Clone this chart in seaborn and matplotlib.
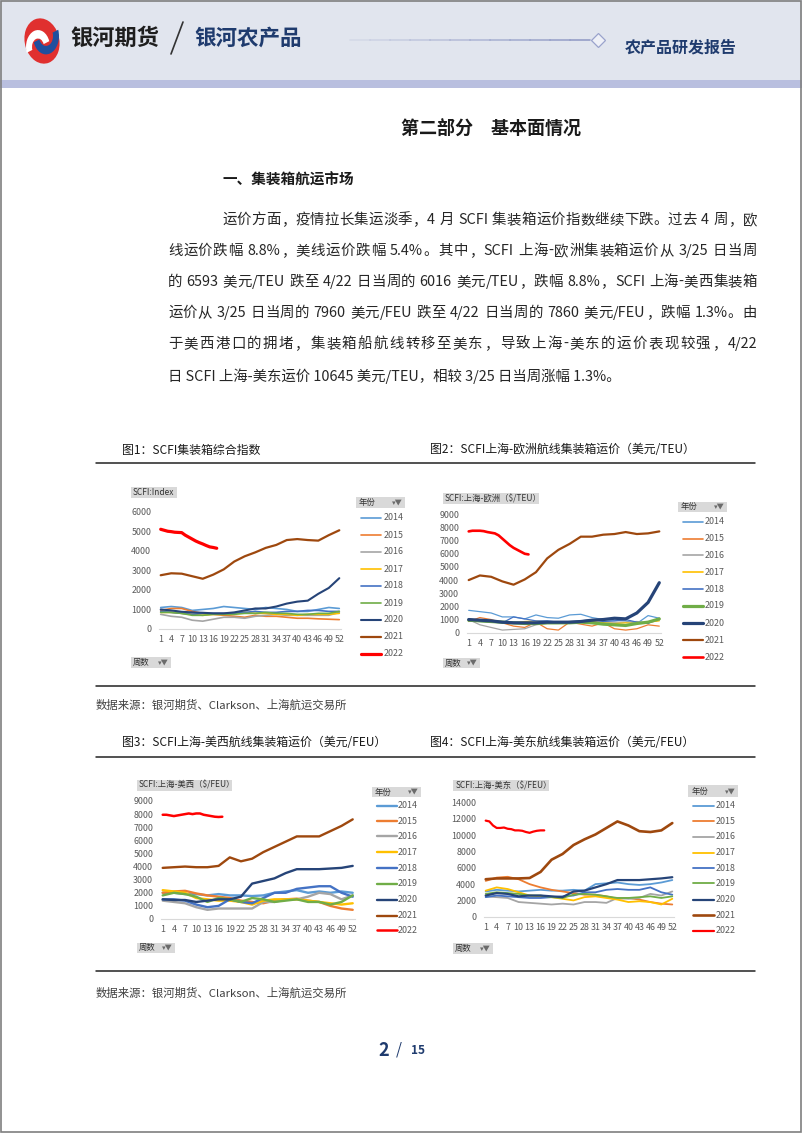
import numpy as np
import pandas as pd
import matplotlib
matplotlib.use("Agg")
import matplotlib.pyplot as plt
from matplotlib.patches import Rectangle, Ellipse, Wedge
from matplotlib.lines import Line2D
import seaborn as sns

sns.set_style("white")
plt.rcParams['font.family'] = ['Noto Sans CJK SC', 'DejaVu Sans']

W, H = 802, 1133

# ---------------- data ----------------
YEARS = ["2014", "2015", "2016", "2017", "2018", "2019", "2020", "2021", "2022"]
WEEKS = [1, 4, 7, 10, 13, 16, 19, 22, 25, 28, 31, 34, 37, 40, 43, 46, 49, 52]
WEEKS_2022 = [1, 2, 3, 4, 5, 6, 7, 8, 9, 10, 11, 12, 13, 14, 15, 16, 17]
XTICK_LABELS = ["1", "4", "7", "10", "13", "16", "19", "22", "25", "28", "31", "34",
                "37", "40", "43", "46", "49", "52"]

# Chart 1: SCFI composite index
c1_2014 = [1100, 1150, 1100, 950, 1000, 1050, 1150, 1100, 1050, 1000, 1100, 1050, 1000, 900, 900, 1000, 1100, 1050]
c1_2015 = [950, 1050, 1050, 900, 800, 750, 700, 650, 600, 700, 650, 650, 600, 550, 550, 520, 500, 480]
c1_2016 = [750, 650, 600, 450, 400, 500, 600, 600, 550, 650, 700, 750, 700, 700, 700, 700, 700, 850]
c1_2017 = [850, 850, 800, 750, 700, 750, 750, 800, 850, 800, 800, 750, 750, 700, 750, 750, 750, 800]
c1_2018 = [900, 850, 800, 750, 800, 800, 800, 800, 850, 900, 850, 850, 900, 900, 950, 950, 900, 900]
c1_2019 = [850, 850, 800, 700, 700, 750, 750, 750, 800, 800, 850, 800, 800, 750, 750, 800, 800, 900]
c1_2020 = [1000, 950, 880, 850, 830, 800, 800, 850, 950, 1050, 1050, 1150, 1300, 1400, 1450, 1800, 2100, 2600]
c1_2021 = [2750, 2850, 2830, 2700, 2570, 2780, 3050, 3450, 3720, 3920, 4150, 4300, 4550, 4600, 4550, 4520, 4800, 5050]
c1_2022 = [5100, 5050, 5000, 4980, 4950, 4940, 4930, 4800, 4700, 4600, 4500, 4420, 4350, 4270, 4200, 4170, 4130]

# Chart 2: Shanghai-Europe ($/TEU)
c2_2014 = [1700, 1600, 1500, 1200, 1200, 1050, 1350, 1150, 1100, 1350, 1400, 1150, 1000, 950, 900, 700, 1300, 1100]
c2_2015 = [850, 1150, 1000, 750, 500, 400, 800, 300, 200, 800, 650, 500, 750, 300, 200, 300, 600, 500]
c2_2016 = [1000, 600, 400, 200, 250, 300, 600, 700, 700, 750, 800, 750, 800, 800, 800, 850, 750, 950]
c2_2017 = [950, 950, 900, 800, 750, 850, 900, 850, 800, 850, 850, 850, 750, 700, 750, 700, 800, 900]
c2_2018 = [900, 850, 800, 750, 1200, 1050, 900, 900, 800, 850, 900, 1000, 850, 900, 1000, 800, 700, 1100]
c2_2019 = [950, 900, 850, 800, 750, 700, 700, 750, 750, 750, 800, 750, 650, 600, 550, 700, 800, 1050]
c2_2020 = [1000, 950, 900, 800, 750, 750, 750, 800, 800, 800, 850, 950, 1000, 1100, 1050, 1500, 2300, 3800]
c2_2021 = [4000, 4350, 4250, 3900, 3650, 4050, 4600, 5650, 6300, 6750, 7300, 7300, 7450, 7500, 7650, 7500, 7550, 7700]
c2_2022 = [7700, 7750, 7750, 7750, 7720, 7650, 7600, 7550, 7400, 7150, 6900, 6650, 6450, 6300, 6150, 6000, 5950]

# Chart 3: Shanghai-US West Coast ($/FEU)
c3_2014 = [2000, 2000, 1900, 1900, 1800, 1900, 1800, 1800, 1750, 1800, 2000, 2100, 2200, 2000, 2100, 2000, 2100, 2000]
c3_2015 = [2000, 2100, 2150, 1950, 1800, 1700, 1600, 1400, 1300, 1200, 1400, 1500, 1550, 1400, 1300, 1000, 800, 700]
c3_2016 = [1400, 1300, 1200, 900, 700, 800, 800, 800, 800, 1300, 1300, 1500, 1500, 1700, 2000, 1900, 1500, 1800]
c3_2017 = [2200, 2100, 2000, 1600, 1500, 1400, 1400, 1300, 1100, 1400, 1500, 1500, 1500, 1400, 1300, 1200, 1100, 1200]
c3_2018 = [1500, 1500, 1400, 1100, 900, 1000, 1500, 1300, 1200, 1600, 2000, 2000, 2300, 2400, 2500, 2500, 2000, 1700]
c3_2019 = [1800, 2000, 1900, 1700, 1300, 1600, 1500, 1300, 1600, 1500, 1300, 1400, 1500, 1300, 1300, 1100, 1300, 1800]
c3_2020 = [1500, 1450, 1450, 1300, 1400, 1500, 1500, 1700, 2700, 2900, 3100, 3500, 3800, 3800, 3800, 3850, 3900, 4050]
c3_2021 = [3900, 3950, 4000, 3950, 3950, 4050, 4700, 4400, 4600, 5100, 5500, 5900, 6300, 6300, 6300, 6700, 7100, 7600]
c3_2022 = [7950, 7950, 7900, 7850, 7900, 7950, 8000, 8050, 8000, 8050, 8050, 7950, 7900, 7850, 7800, 7780, 7800]

# Chart 4: Shanghai-US East Coast ($/FEU)
c4_2014 = [3100, 3300, 3200, 3100, 3200, 3300, 3200, 3200, 3300, 3200, 4000, 4100, 4200, 4000, 3900, 4000, 4200, 4500]
c4_2015 = [4400, 4800, 4900, 4600, 4000, 3600, 3300, 3100, 2900, 2700, 2700, 2500, 2200, 2300, 2100, 1800, 1600, 1500]
c4_2016 = [2500, 2400, 2300, 1800, 1700, 1600, 1500, 1600, 1500, 1800, 1800, 1700, 2300, 2200, 2300, 2800, 2600, 3100]
c4_2017 = [3200, 3600, 3400, 3000, 2600, 2500, 2400, 2200, 2000, 2400, 2500, 2300, 2100, 1800, 1900, 1800, 1500, 2200]
c4_2018 = [2400, 2600, 2500, 2400, 2300, 2300, 2400, 2500, 2600, 3000, 3000, 3300, 3400, 3300, 3300, 3600, 3000, 2700]
c4_2019 = [2800, 3000, 2900, 2800, 2600, 2600, 2400, 2300, 2700, 2800, 2700, 2500, 2300, 2300, 2400, 2500, 2300, 2500]
c4_2020 = [2600, 2900, 2800, 2500, 2600, 2600, 2500, 2400, 3100, 3200, 3600, 4000, 4500, 4500, 4500, 4600, 4700, 4850]
c4_2021 = [4600, 4700, 4700, 4700, 4750, 5500, 7000, 7700, 8800, 9500, 10100, 10900, 11700, 11200, 10500, 10400, 10600, 11500]
c4_2022 = [11800, 11700, 11200, 10900, 10900, 10950, 10800, 10750, 10600, 10600, 10550, 10400, 10300, 10450, 10550, 10600, 10600]

COLORS = {"2014": "#5B9BD5", "2015": "#ED7D31", "2016": "#A5A5A5", "2017": "#FFC000",
          "2018": "#4472C4", "2019": "#70AD47", "2020": "#264478", "2021": "#9E480E",
          "2022": "#FF0000"}

def long_df(series):
    rows = []
    for yr, vals in zip(YEARS, series):
        wk = WEEKS_2022 if yr == "2022" else WEEKS
        for w, v in zip(wk, vals):
            rows.append((yr, w, v))
    return pd.DataFrame(rows, columns=["year", "week", "value"])

fig = plt.figure(figsize=(W / 100, H / 100), dpi=100)
renderer = fig.canvas.get_renderer()

def fx(x):
    return x / W

def fy(y):
    return 1 - y / H

def box(x0, x1, y0, y1, fc, ec="none", lw=0, z=0):
    fig.add_artist(Rectangle((fx(x0), fy(y1)), (x1 - x0) / W, (y1 - y0) / H,
                             transform=fig.transFigure, facecolor=fc, edgecolor=ec,
                             linewidth=lw, zorder=z))

def hline(x0, x1, y, color, lw):
    fig.add_artist(Line2D([fx(x0), fx(x1)], [fy(y), fy(y)], transform=fig.transFigure,
                          color=color, linewidth=lw))

def txt(x, y, s, size, color="#222222", weight="normal", ha="left", va="center", **kw):
    return fig.text(fx(x), fy(y), s, fontsize=size, color=color, fontweight=weight,
                    ha=ha, va=va, **kw)

def justified(x0, x1, y, s, size, color):
    # split into tokens: each CJK char / punctuation alone, latin runs kept together
    tokens = []
    cur = ""
    for ch in s:
        if ord(ch) < 0x2000 and ch != " ":
            cur += ch
        else:
            if cur:
                tokens.append(cur)
                cur = ""
            tokens.append(ch)
    if cur:
        tokens.append(cur)
    widths = []
    for t in tokens:
        if t == " ":
            widths.append(size * 1.389 * 0.25)
            continue
        tt = fig.text(0, 0, t, fontsize=size)
        widths.append(tt.get_window_extent(renderer).width)
        tt.remove()
    total = sum(widths)
    gaps = len(tokens) - 1
    extra = (x1 - x0 - total) / gaps if gaps > 0 else 0
    x = x0
    for t, w in zip(tokens, widths):
        if t != " ":
            txt(x, y, t, size, color=color)
        x += w + extra

# ---------------- page frame & header ----------------
box(0, W, 0, 80, "#e1e5ee")
box(0, W, 80, 88, "#b9bfdf")
fig.add_artist(Rectangle((0.001, 0.001), 0.998, 0.998, transform=fig.transFigure,
                         facecolor="none", edgecolor="#7f7f7f", linewidth=1.2, zorder=10))

# logo
fig.add_artist(Ellipse((fx(42), fy(41)), 36 / W, 44 / H, angle=-25, transform=fig.transFigure,
                       facecolor="#e0302f", edgecolor="none"))
fig.add_artist(Wedge((fx(46), fy(36)), 13 / W, 200, 20, width=6 / W, transform=fig.transFigure,
                     facecolor="#1f4f9e", edgecolor="none"))
fig.add_artist(Wedge((fx(38), fy(47)), 12 / W, 20, 200, width=6 / W, transform=fig.transFigure,
                     facecolor="#ffffff", edgecolor="none"))

txt(70, 38, "银河期货", 16, color="#1e1e1e", weight="bold")
fig.add_artist(Line2D([fx(171), fx(183)], [fy(54), fy(22)], transform=fig.transFigure,
                      color="#333333", linewidth=1.2))
txt(194, 38, "银河农产品", 15.5, color="#1f3b6e", weight="bold")
for i in range(12):
    a0 = 350 + i * 20
    fig.add_artist(Line2D([fx(a0), fx(a0 + 20)], [fy(40), fy(40)], transform=fig.transFigure,
                          color="#8e98c4", alpha=0.15 + 0.07 * i, linewidth=1.2))
fig.add_artist(Line2D([fx(598)], [fy(40)], transform=fig.transFigure, marker="D",
                      markersize=7, markerfacecolor="#eef0f7", markeredgecolor="#9aa3cc",
                      markeredgewidth=0.9))
txt(625, 47, "农产品研发报告", 11.5, color="#1f3b6e", weight="bold")

# ---------------- title & text ----------------
txt(491, 128, "第二部分　基本面情况", 13, color="#1a1a1a", weight="bold", ha="center")
txt(222, 180, "一、集装箱航运市场", 10.5, color="#1a1a1a", weight="bold")

para = [
    (222, "运价方面，疫情拉长集运淡季，4 月 SCFI 集装箱运价指数继续下跌。过去 4 周，欧"),
    (168, "线运价跌幅 8.8%，美线运价跌幅 5.4%。其中，SCFI 上海-欧洲集装箱运价从 3/25 日当周"),
    (168, "的 6593 美元/TEU 跌至 4/22 日当周的 6016 美元/TEU，跌幅 8.8%，SCFI 上海-美西集装箱"),
    (168, "运价从 3/25 日当周的 7960 美元/FEU 跌至 4/22 日当周的 7860 美元/FEU，跌幅 1.3%。由"),
    (168, "于美西港口的拥堵，集装箱船航线转移至美东，导致上海-美东的运价表现较强，4/22"),
    (168, "日 SCFI 上海-美东运价 10645 美元/TEU，相较 3/25 日当周涨幅 1.3%。"),
]
para_y = [220, 251, 282, 313, 344, 376]
PARA_SIZE = 10.4
for i, ((x0, s), y) in enumerate(zip(para, para_y)):
    if i < len(para) - 1:
        justified(x0, 757, y, s, PARA_SIZE, "#262626")
    else:
        txt(x0, y, s, PARA_SIZE, color="#262626")

# captions / rules / sources
txt(122, 450, "图1：SCFI集装箱综合指数", 8.6, color="#1a1a1a")
txt(430, 450, "图2：SCFI上海-欧洲航线集装箱运价（美元/TEU）", 8.6, color="#1a1a1a")
hline(96, 755, 463, "#222222", 1.1)
hline(96, 755, 686, "#222222", 1.1)
txt(96, 705, "数据来源：银河期货、Clarkson、上海航运交易所", 8.2, color="#404040")
txt(122, 743, "图3：SCFI上海-美西航线集装箱运价（美元/FEU）", 8.6, color="#1a1a1a")
txt(430, 743, "图4：SCFI上海-美东航线集装箱运价（美元/FEU）", 8.6, color="#1a1a1a")
hline(96, 755, 757, "#222222", 1.1)
hline(96, 755, 971, "#222222", 1.1)
txt(96, 993, "数据来源：银河期货、Clarkson、上海航运交易所", 8.2, color="#404040")

txt(384, 1050, "2", 13, color="#1f3b6e", weight="bold", ha="center")
txt(399, 1050, "/", 11, color="#1f3b6e", ha="center")
txt(418, 1051, "15", 8.5, color="#1f3b6e", weight="bold", ha="center")

# ---------------- charts ----------------
charts = [
    dict(series=[c1_2014, c1_2015, c1_2016, c1_2017, c1_2018, c1_2019, c1_2020, c1_2021, c1_2022],
         x1=160.7, x52=339.3, y0=629, ytop=511.7, ymax=6000, ystep=1000,
         lw=[1.2, 1.2, 1.2, 1.2, 1.2, 1.2, 1.5, 1.6, 2.3],
         label="SCFI:Index", lab_box=(131, 177, 487, 498),
         wk_box=(131, 171, 657, 668),
         yr_box=(355.7, 405, 496.7, 508),
         leg_x=(360.7, 381, 383.3),
         leg_y=[517.7, 535, 551.7, 569, 586, 603, 620, 636.7, 653.7]),
    dict(series=[c2_2014, c2_2015, c2_2016, c2_2017, c2_2018, c2_2019, c2_2020, c2_2021, c2_2022],
         x1=468.7, x52=659.3, y0=632.7, ytop=514.3, ymax=9000, ystep=1000,
         lw=[0.9, 0.9, 0.9, 0.9, 0.9, 2.3, 2.3, 1.6, 1.9],
         label="SCFI:上海-欧洲（$/TEU）", lab_box=(442.7, 539.3, 493, 504),
         wk_box=(443, 480, 657.7, 668.3),
         yr_box=(677.7, 726.7, 501.7, 512.3),
         leg_x=(683, 703, 705),
         leg_y=[521.7, 538.7, 555.3, 572.3, 589, 606, 623.3, 640.3, 657]),
    dict(series=[c3_2014, c3_2015, c3_2016, c3_2017, c3_2018, c3_2019, c3_2020, c3_2021, c3_2022],
         x1=162.7, x52=352.7, y0=919, ytop=801, ymax=9000, ystep=1000,
         lw=[1.7, 1.7, 1.7, 1.7, 1.7, 1.7, 1.7, 1.7, 1.8],
         label="SCFI:上海-美西（$/FEU）", lab_box=(136.7, 232.3, 779.7, 790.7),
         wk_box=(136.7, 175, 942.7, 953),
         yr_box=(371.7, 421, 786.7, 797.3),
         leg_x=(376.7, 396.7, 398),
         leg_y=[805.7, 821, 836.3, 852.3, 868.3, 884, 899.7, 915.7, 930.3]),
    dict(series=[c4_2014, c4_2015, c4_2016, c4_2017, c4_2018, c4_2019, c4_2020, c4_2021, c4_2022],
         x1=485.7, x52=672.3, y0=916.7, ytop=802.7, ymax=14000, ystep=2000,
         lw=[1.3, 1.3, 1.3, 1.3, 1.3, 1.3, 1.6, 1.9, 1.6],
         label="SCFI:上海-美东（$/FEU）", lab_box=(453.3, 549.3, 780, 790.7),
         wk_box=(453, 493, 943, 954),
         yr_box=(688.3, 738.3, 785, 797.3),
         leg_x=(693.3, 714, 715.7),
         leg_y=[806, 821, 836.7, 852.7, 868.3, 883.3, 899.7, 915, 930.7]),
]

TICK_C = "#595959"
for c in charts:
    dx = (c["x52"] - c["x1"]) / 51
    left = c["x1"] - 0.5 * dx
    right = c["x52"] + 0.5 * dx
    ax = fig.add_axes([fx(left), fy(c["y0"]), (right - left) / W, (c["y0"] - c["ytop"]) / H])
    ax.set_facecolor("none")
    df = long_df(c["series"])
    for yr, lw in zip(YEARS, c["lw"]):
        sns.lineplot(data=df[df["year"] == yr], x="week", y="value", color=COLORS[yr],
                     linewidth=lw, ax=ax, legend=False, errorbar=None, zorder=2)
    ax.set_xlim(0.5, 52.5)
    ax.set_ylim(0, c["ymax"])
    ax.set_xticks(WEEKS)
    ax.set_xticklabels(XTICK_LABELS)
    yt = list(range(0, c["ymax"] + 1, c["ystep"]))
    ax.set_yticks(yt)
    ax.set_yticklabels([str(v) for v in yt])
    ax.tick_params(axis="both", length=0, labelsize=6.4, labelcolor=TICK_C)
    ax.tick_params(axis="x", pad=4.5)
    ax.tick_params(axis="y", pad=5.5)
    ax.set_xlabel("")
    ax.set_ylabel("")
    ax.grid(False)
    for s in ["top", "right", "left"]:
        ax.spines[s].set_visible(False)
    ax.spines["bottom"].set_color("#d9d9d9")
    ax.spines["bottom"].set_linewidth(0.8)
    ax.spines["bottom"].set_zorder(1)

    # field buttons
    x0, x1b, yb0, yb1 = c["lab_box"]
    box(x0, x1b, yb0, yb1, "#d9d9d9")
    txt(x0 + 2, (yb0 + yb1) / 2, c["label"], 6.0, color="#333333")
    x0, x1b, yb0, yb1 = c["wk_box"]
    box(x0, x1b, yb0, yb1, "#d9d9d9")
    txt(x0 + 2, (yb0 + yb1) / 2, "周数", 6.0, color="#333333")
    txt(x1b - 2, (yb0 + yb1) / 2, "▾▼", 5.2, color="#6b6b6b", ha="right")
    x0, x1b, yb0, yb1 = c["yr_box"]
    box(x0, x1b, yb0, yb1, "#d9d9d9")
    txt(x0 + 3, (yb0 + yb1) / 2, "年份", 6.0, color="#333333")
    txt(x1b - 2, (yb0 + yb1) / 2, "▾▼", 5.2, color="#6b6b6b", ha="right")

    # legend
    lx0, lx1, tx = c["leg_x"]
    for yr, lw, ly in zip(YEARS, c["lw"], c["leg_y"]):
        fig.add_artist(Line2D([fx(lx0), fx(lx1)], [fy(ly), fy(ly)], transform=fig.transFigure,
                              color=COLORS[yr], linewidth=max(lw, 1.2)))
        txt(tx, ly, yr, 6.4, color=TICK_C)

fig.savefig("out.png", dpi=100)
